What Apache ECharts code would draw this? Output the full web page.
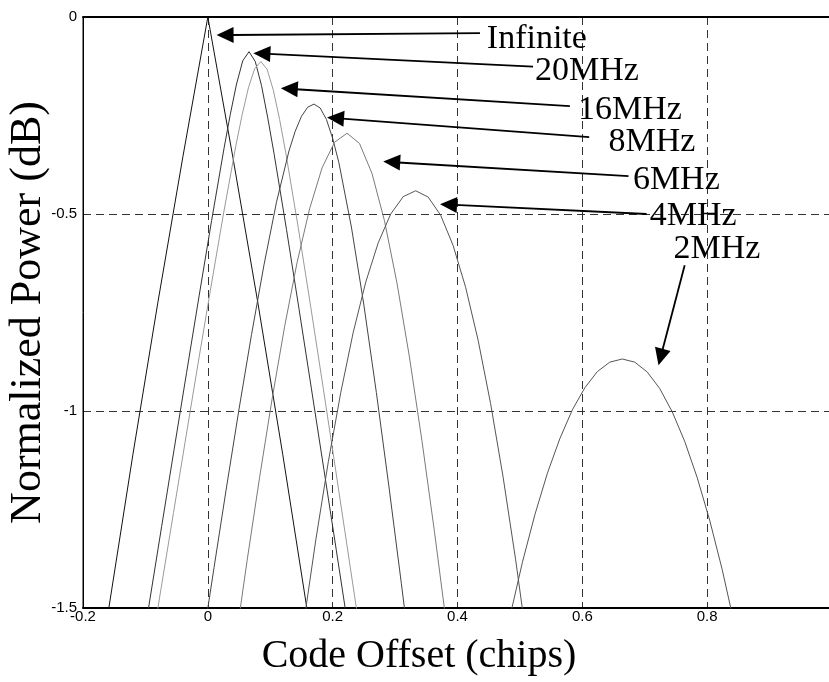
<!DOCTYPE html>
<html><head><meta charset="utf-8">
<script src="https://cdn.jsdelivr.net/npm/echarts@6/dist/echarts.min.js"></script>
<style>html,body{margin:0;padding:0;background:#fff}#c{width:829px;height:682px}</style>
</head><body><div id="c"></div>
<script>
// ---- tick labels ----
const xTickLabels = ['-0.2','0','0.2','0.4','0.6','0.8',''];
const yTickLabels = ['-1.5','-1','-0.5','0'];

// ---- series (code offset in chips, normalized power in dB) ----
const seriesNames = ['Infinite','20MHz','16MHz','8MHz','6MHz','4MHz','2MHz'];
const offInf = [-0.17,-0.16,-0.12,-0.08,-0.04,0,0.04,0.08,0.12,0.16,0.17];
const powInf = [-1.618,-1.514,-1.110,-0.724,-0.355,0,-0.355,-0.724,-1.110,-1.514,-1.618];
const off20 = [-0.104,-0.094,-0.074,-0.054,-0.034,-0.014,0.006,0.026,0.036,0.046,0.056,0.066,0.076,0.086,0.096,0.106,0.126,0.146,0.166,0.186,0.206,0.226];
const pow20 = [-1.589,-1.490,-1.293,-1.097,-0.902,-0.708,-0.517,-0.333,-0.247,-0.170,-0.111,-0.088,-0.113,-0.174,-0.256,-0.346,-0.539,-0.740,-0.944,-1.149,-1.355,-1.562];
const off16 = [-0.085,-0.075,-0.055,-0.035,-0.015,0.005,0.025,0.045,0.055,0.065,0.075,0.085,0.095,0.105,0.115,0.125,0.145,0.165,0.185,0.205,0.225,0.245];
const pow16 = [-1.549,-1.451,-1.258,-1.065,-0.873,-0.685,-0.500,-0.326,-0.248,-0.180,-0.131,-0.113,-0.133,-0.186,-0.260,-0.346,-0.536,-0.737,-0.943,-1.152,-1.363,-1.574];
const off8 = [-0.010,0.000,0.010,0.030,0.050,0.070,0.090,0.110,0.130,0.140,0.150,0.160,0.170,0.180,0.190,0.200,0.210,0.230,0.250,0.270,0.290,0.310,0.330];
const pow8 = [-1.604,-1.500,-1.397,-1.193,-0.995,-0.806,-0.629,-0.470,-0.340,-0.290,-0.252,-0.229,-0.221,-0.231,-0.260,-0.308,-0.370,-0.533,-0.731,-0.953,-1.190,-1.437,-1.692];
const off6 = [0.043,0.063,0.083,0.103,0.123,0.143,0.163,0.183,0.203,0.223,0.243,0.263,0.283,0.303,0.323,0.343,0.363,0.383];
const pow6 = [-1.601,-1.379,-1.168,-0.969,-0.786,-0.623,-0.487,-0.383,-0.318,-0.295,-0.321,-0.397,-0.517,-0.675,-0.863,-1.075,-1.305,-1.550];
const off4 = [0.153,0.173,0.193,0.213,0.233,0.253,0.273,0.293,0.313,0.333,0.353,0.373,0.393,0.413,0.433,0.453,0.473,0.493,0.513];
const pow4 = [-1.545,-1.327,-1.129,-0.953,-0.800,-0.673,-0.573,-0.500,-0.456,-0.441,-0.457,-0.503,-0.580,-0.686,-0.820,-0.981,-1.167,-1.376,-1.606];
const off2 = [0.484,0.504,0.524,0.544,0.564,0.584,0.604,0.624,0.644,0.664,0.684,0.704,0.724,0.744,0.764,0.784,0.804,0.824,0.844];
const pow2 = [-1.522,-1.384,-1.263,-1.158,-1.070,-0.997,-0.941,-0.900,-0.876,-0.868,-0.876,-0.901,-0.943,-1.002,-1.077,-1.169,-1.277,-1.402,-1.544];

// ---- annotations (data coordinates) ----
const annLabels = ['Infinite','20MHz','16MHz','8MHz','6MHz','4MHz','2MHz'];
const annTipX  = [0.014,0.073,0.117,0.191,0.281,0.372,0.722];
const annTipY  = [-0.046,-0.092,-0.181,-0.255,-0.367,-0.475,-0.884];
const annTailX = [0.436,0.521,0.580,0.611,0.674,0.703,0.764];
const annTailY = [-0.041,-0.126,-0.226,-0.305,-0.404,-0.500,-0.630];
const annTextX = [0.447,0.524,0.593,0.642,0.681,0.708,0.746];
const annTextY = [-0.084,-0.164,-0.263,-0.346,-0.441,-0.533,-0.617];

const offs = [offInf,off20,off16,off8,off6,off4,off2];
const pows = [powInf,pow20,pow16,pow8,pow6,pow4,pow2];
const colors = ['#111111','#333333','#9a9a9a','#444444','#7a7a7a','#555555','#555555'];

const chart = echarts.init(document.getElementById('c'), null, {renderer:'canvas'});
const gridCfg = {left:83, top:17, width:749, height:591, show:true, borderColor:'#000', borderWidth:1,
  containLabel:false, outerBoundsMode:'none'};
const dashed = {color:'#333', width:1, type:[8,5]};

const option = {
  animation:false,
  backgroundColor:'#fff',
  grid: gridCfg,
  xAxis: [{
    type:'value', min:-0.2, max:1.0, interval:0.2, position:'bottom',
    axisLine:{show:true, onZero:false, lineStyle:{color:'#000', width:2}},
    axisTick:{show:false},
    axisLabel:{margin:1, color:'#000', fontSize:15, fontFamily:'Liberation Sans',
      formatter:(v)=> xTickLabels[Math.round((v+0.2)/0.2)] ?? ''},
    splitLine:{show:true, lineStyle:dashed},
    name:'Code Offset (chips)', nameLocation:'middle', nameGap:28, nameMoveOverlap:false,
    nameTextStyle:{fontFamily:'Liberation Serif', fontSize:40, color:'#000', padding:[0,77,0,0]}
  },{
    type:'value', min:-0.2, max:1.0, interval:0.2, position:'top',
    axisLine:{show:true, onZero:false, lineStyle:{color:'#000', width:2}},
    axisTick:{show:false}, axisLabel:{show:false}, splitLine:{show:false}
  }],
  yAxis: {
    type:'value', min:-1.5, max:0, interval:0.5,
    axisLine:{show:true, onZero:false, lineStyle:{color:'#000', width:1}},
    axisTick:{show:false},
    axisLabel:{margin:6, color:'#000', fontSize:15, fontFamily:'Liberation Sans',
      formatter:(v)=> yTickLabels[Math.round((v+1.5)/0.5)] ?? ''},
    splitLine:{show:true, lineStyle:dashed},
    name:'Normalized Power (dB)', nameLocation:'middle', nameGap:33, nameMoveOverlap:false,
    nameTextStyle:{fontFamily:'Liberation Serif', fontSize:44, color:'#000'}
  },
  series: seriesNames.map((n,i)=>({
    name:n, type:'line', xAxisIndex:0, yAxisIndex:0,
    data: offs[i].map((x,j)=>[x,pows[i][j]]),
    showSymbol:false, symbol:'none', smooth:false, clip:true,
    lineStyle:{color:colors[i], width:1}, z:3
  }))
};
chart.setOption(option);

function buildGraphics(){
  const g=[]; const L=17, W=16;
  const cv = p => chart.convertToPixel({xAxisIndex:0,yAxisIndex:0}, p);
  for(let i=0;i<annLabels.length;i++){
    const T=cv([annTipX[i],annTipY[i]]), S=cv([annTailX[i],annTailY[i]]);
    const dx=T[0]-S[0], dy=T[1]-S[1], len=Math.hypot(dx,dy), ux=dx/len, uy=dy/len;
    const bx=T[0]-ux*L, by=T[1]-uy*L, nx=-uy, ny=ux;
    g.push({type:'line', z:100, shape:{x1:S[0],y1:S[1],x2:bx+ux*2,y2:by+uy*2}, style:{stroke:'#000', lineWidth:1.8}});
    g.push({type:'polygon', z:100, shape:{points:[[T[0],T[1]],[bx+nx*W/2,by+ny*W/2],[bx-nx*W/2,by-ny*W/2]]}, style:{fill:'#000'}});
    const P=cv([annTextX[i],annTextY[i]]);
    g.push({type:'text', z:101, x:P[0], y:P[1]-11,
      style:{text:annLabels[i], font:'34px "Liberation Serif"', fill:'#000',
        align:'left', verticalAlign:'middle', textAlign:'left', textVerticalAlign:'middle'}});
  }
  chart.setOption({graphic:g});
}
buildGraphics();
</script>
</body></html>
